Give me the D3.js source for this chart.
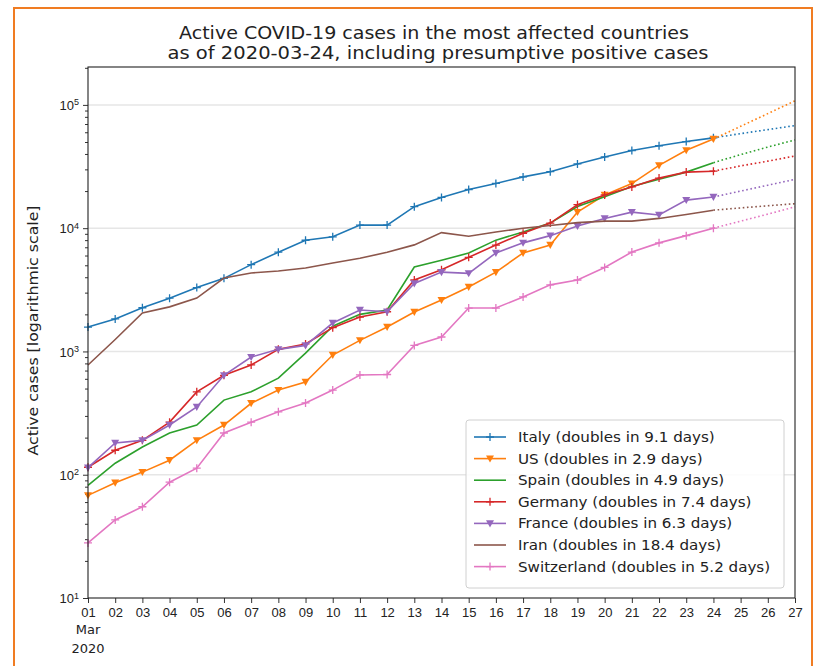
<!DOCTYPE html>
<html><head><meta charset="utf-8">
<script src="https://cdn.jsdelivr.net/npm/d3@7"></script>
<style>
body{margin:0;background:#fff;}
svg{display:block;font-family:"DejaVu Sans",sans-serif;}
</style></head>
<body><svg id="c" width="814" height="666"></svg>
<script>
// ---- data ----
const days = d3.range(1, 25);            // Mar 1 .. Mar 24 (observed)
const projDays = [24, 25, 26, 27];       // dotted projection
const countries = ["Italy","US","Spain","Germany","France","Iran","Switzerland"];
const legendLabels = [
  "Italy (doubles in 9.1 days)",
  "US (doubles in 2.9 days)",
  "Spain (doubles in 4.9 days)",
  "Germany (doubles in 7.4 days)",
  "France (doubles in 6.3 days)",
  "Iran (doubles in 18.4 days)",
  "Switzerland (doubles in 5.2 days)"
];
const italy = [1577,1835,2263,2706,3296,3916,5061,6387,7985,8514,10590,10590,14955,17750,20603,23073,26062,28710,33190,37860,42681,46638,50418,54030];
const us = [68,86,105,131,190,253,380,486,565,935,1230,1580,2090,2610,3330,4400,6300,7300,13500,18600,23000,32300,42800,52900];
const spain = [82,124,168,218,253,403,471,608,970,1600,2000,2170,4840,5500,6280,8000,9300,11000,15000,18000,21800,25000,28500,34000];
const germany = [115,158,190,267,470,640,777,1040,1150,1560,1900,2100,3800,4600,5800,7300,9100,11000,15500,18600,21600,25500,28500,29000];
const france = [114,181,190,253,355,640,900,1040,1120,1700,2170,2100,3560,4400,4300,6300,7600,8700,10400,12000,13500,12800,16900,17900];
const iran = [776,1250,2050,2300,2710,3940,4330,4500,4750,5210,5700,6370,7320,9200,8600,9300,10000,10500,11100,11400,11400,12000,12900,14000];
const switzerland = [28,43,55,87,113,218,267,324,382,486,645,650,1120,1310,2250,2250,2770,3470,3800,4800,6400,7600,8700,10000];
// projections (Mar 24..27)
const italyProj = [54030,58500,63000,68000];
const usProj = [52900,67000,85000,108000];
const spainProj = [34000,39500,45500,52000];
const germanyProj = [29000,32000,35000,38500];
const franceProj = [17900,20000,22300,24900];
const iranProj = [14000,14600,15200,15800];
const switzerlandProj = [10000,11400,13000,14900];
const xTickLabels = d3.range(1, 28).map(d => String(d).padStart(2, "0"));
const yTickValues = [10, 100, 1000, 10000, 100000];
const yTickExp = ["1","2","3","4","5"];

const seriesVals = [italy, us, spain, germany, france, iran, switzerland];
const projVals = [italyProj, usProj, spainProj, germanyProj, franceProj, iranProj, switzerlandProj];
const colors = ["#1f77b4","#ff7f0e","#2ca02c","#d62728","#9467bd","#8c564b","#e377c2"];
const markers = ["plus","tri","none","plus","tri","none","plus"];

// ---- layout ----
const svg = d3.select("#c");
const L = 88, R = 795, T = 67, B = 598;
const dt = d => new Date(Date.UTC(2020, 2, d));
const x = d3.scaleUtc().domain([dt(1), dt(27)]).range([L, R]);
const y = d3.scaleLog().domain([10, 2.03e5]).range([B, T]);

function stretch(sel, factor) {
  sel.each(function() {
    const w = this.getComputedTextLength();
    d3.select(this).attr("textLength", w * factor).attr("lengthAdjust", "spacingAndGlyphs");
  });
}

// frame
svg.append("rect").attr("x", 14).attr("y", 8).attr("width", 798).attr("height", 660)
  .attr("fill", "none").attr("stroke", "#f07c22").attr("stroke-width", 2);

// grid
svg.append("g").selectAll("line").data(yTickValues.slice(1)).join("line")
  .attr("x1", L).attr("x2", R).attr("y1", d => y(d)).attr("y2", d => y(d))
  .attr("stroke", "#e6e6e6").attr("stroke-width", 1.5);

// axes
const xAxis = d3.axisBottom(x).ticks(d3.utcDay.every(1)).tickSize(5)
  .tickFormat((d, i) => xTickLabels[i]);
const gx = svg.append("g").attr("transform", `translate(0,${B})`).call(xAxis);
gx.select(".domain").remove();
gx.selectAll("text").attr("font-size", 13).attr("fill", "#222").attr("dy", "0.85em");
gx.selectAll("line").attr("stroke", "#333");
svg.append("text").attr("x", x(dt(1))).attr("y", 634).attr("text-anchor", "middle")
  .attr("font-size", 13).attr("fill", "#222").text("Mar");
svg.append("text").attr("x", x(dt(1))).attr("y", 653).attr("text-anchor", "middle")
  .attr("font-size", 13).attr("fill", "#222").text("2020");

const minorTicks = [];
for (let e = 1; e <= 5; e++) for (let k = 2; k <= 9; k++) { const v = k * Math.pow(10, e); if (v <= 2.03e5) minorTicks.push(v); }
const yAxisMinor = d3.axisLeft(y).tickValues(minorTicks).tickSize(3).tickFormat("");
const gym = svg.append("g").attr("transform", `translate(${L},0)`).call(yAxisMinor);
gym.select(".domain").remove();
gym.selectAll("line").attr("stroke", "#333");
const yAxis = d3.axisLeft(y).tickValues(yTickValues).tickSize(5).tickFormat("");
const gy = svg.append("g").attr("transform", `translate(${L},0)`).call(yAxis);
gy.select(".domain").remove();
gy.selectAll("line").attr("stroke", "#333");
gy.selectAll(".tick").each(function(d, i) {
  const t = d3.select(this).append("text").attr("x", -9).attr("dy", "0.35em")
    .attr("text-anchor", "end").attr("fill", "#222").attr("font-size", 13);
  t.append("tspan").text("10");
  t.append("tspan").attr("dy", "-0.5em").attr("font-size", 9).text(yTickExp[i]);
});

// y label
const yl = svg.append("text").attr("transform", `translate(38,${(T + B) / 2 - 2}) rotate(-90)`)
  .attr("text-anchor", "middle").attr("font-size", 14).attr("fill", "#222")
  .text("Active cases [logarithmic scale]");
yl.attr("textLength", 250).attr("lengthAdjust", "spacingAndGlyphs");

// title
svg.append("text").attr("x", 434).attr("y", 39).attr("text-anchor", "middle")
  .attr("font-size", 17.5).attr("fill", "#222")
  .attr("textLength", 510).attr("lengthAdjust", "spacingAndGlyphs")
  .text("Active COVID-19 cases in the most affected countries");
svg.append("text").attr("x", 438).attr("y", 59).attr("text-anchor", "middle")
  .attr("font-size", 17.5).attr("fill", "#222")
  .attr("textLength", 541).attr("lengthAdjust", "spacingAndGlyphs")
  .text("as of 2020-03-24, including presumptive positive cases");

// lines
const plot = svg.append("g");
const line = d3.line().x(d => x(dt(d[0]))).y(d => y(d[1]));
function drawMarker(g, type, cx, cy, color, size) {
  if (type === "plus") {
    g.append("path").attr("d", `M${cx - size},${cy}H${cx + size}M${cx},${cy - size}V${cy + size}`)
      .attr("stroke", color).attr("stroke-width", 1.3).attr("fill", "none");
  } else if (type === "tri") {
    g.append("path").attr("d", `M${cx - size},${cy - size * 0.8}L${cx + size},${cy - size * 0.8}L${cx},${cy + size}Z`)
      .attr("fill", color).attr("stroke", "none");
  }
}
countries.forEach((c, i) => {
  const vals = seriesVals[i];
  const pts = days.map((d, j) => [d, vals[j]]);
  const ppts = projDays.map((d, j) => [d, projVals[i][j]]);
  plot.append("path").attr("d", line(ppts)).attr("fill", "none")
    .attr("stroke", colors[i]).attr("stroke-width", 1.6).attr("stroke-dasharray", "1.6,2.6");
  plot.append("path").attr("d", line(pts)).attr("fill", "none")
    .attr("stroke", colors[i]).attr("stroke-width", 1.6);
  const mg = plot.append("g");
  pts.forEach(p => drawMarker(mg, markers[i], x(dt(p[0])), y(p[1]), colors[i], 4));
});

// spines
svg.append("rect").attr("x", L).attr("y", T).attr("width", R - L).attr("height", B - T)
  .attr("fill", "none").attr("stroke", "#222").attr("stroke-width", 1.1);

// legend
const lg = svg.append("g");
lg.append("rect").attr("x", 466).attr("y", 420).attr("width", 318).attr("height", 168)
  .attr("rx", 3).attr("fill", "#fff").attr("fill-opacity", 0.85).attr("stroke", "#d0d0d0");
legendLabels.forEach((lab, i) => {
  const yy = 437 + i * 21.6;
  lg.append("line").attr("x1", 474).attr("x2", 506).attr("y1", yy).attr("y2", yy)
    .attr("stroke", colors[i]).attr("stroke-width", 1.6);
  drawMarker(lg, markers[i], 490, yy, colors[i], 4);
  const t = lg.append("text").attr("x", 518).attr("y", yy).attr("dy", "0.35em")
    .attr("font-size", 14).attr("fill", "#222").text(lab);
  stretch(t, 1.08);
});
</script></body></html>
